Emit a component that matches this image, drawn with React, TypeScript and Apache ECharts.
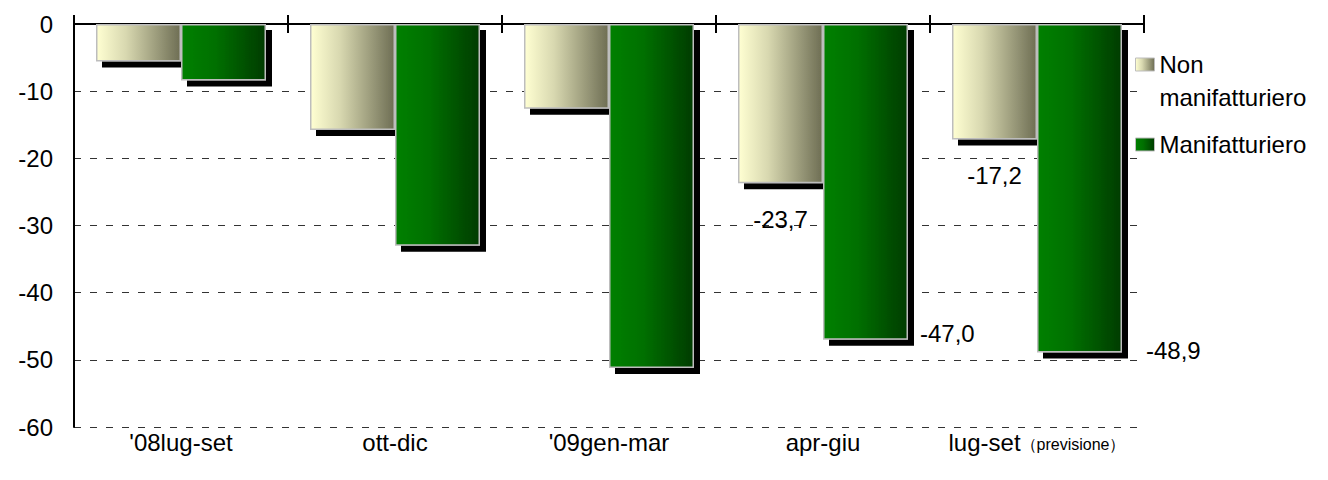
import React, { useEffect, useRef } from "react";
import * as echarts from "echarts";

const categories = ["'08lug-set", "ott-dic", "'09gen-mar", "apr-giu", "lug-set（previsione）"];
const seriesNames = ["Non manifatturiero", "Manifatturiero"];
const nonManifatturiero = [-5.6, -15.8, -12.6, -23.7, -17.2];
const manifatturiero = [-8.4, -33.0, -51.2, -47.0, -48.9];
const labeledIndices = [3, 4];
const yMin = -60;
const yMax = 0;
const yInterval = 10;

const FONT = "'Liberation Sans', Arial, sans-serif";
const FS = 24;

const fmt = (v: number) => v.toFixed(1).replace(".", ",");

export default function App() {
  const ref = useRef<HTMLDivElement>(null);

  useEffect(() => {
    if (!ref.current) return;
    const chart = echarts.init(ref.current, null, { renderer: "svg" });

    const nonGrad = new echarts.graphic.LinearGradient(0, 0, 1, 0, [
      { offset: 0, color: "#FFFFD2" },
      { offset: 0.35, color: "#D8D8B0" },
      { offset: 1, color: "#6E6E54" },
    ]);
    const manGrad = new echarts.graphic.LinearGradient(0, 0, 1, 0, [
      { offset: 0, color: "#008000" },
      { offset: 0.4, color: "#007000" },
      { offset: 1, color: "#003C00" },
    ]);

    const shadow = {
      shadowColor: "#000",
      shadowBlur: 0,
      shadowOffsetX: 6,
      shadowOffsetY: 6,
    };

    const labelBase = {
      show: true,
      color: "#000",
      fontFamily: FONT,
      fontSize: FS,
      formatter: (p: any) => fmt(p.value),
    };

    const nonData = nonManifatturiero.map((v, i) =>
      labeledIndices.includes(i)
        ? { value: v, label: { ...labelBase, position: "bottom", distance: 24 } }
        : v
    );
    const manOffsets: Record<number, number[]> = { 3: [12, -6], 4: [24, -2] };
    const manData = manifatturiero.map((v, i) =>
      labeledIndices.includes(i)
        ? {
            value: v,
            label: {
              ...labelBase,
              position: ["100%", "100%"],
              align: "left",
              verticalAlign: "middle",
              offset: manOffsets[i],
            },
          }
        : v
    );

    const legendText = {
      fontFamily: FONT,
      fontSize: FS,
      color: "#000",
      lineHeight: 33,
    };
    const legendItemStyle = {
      borderColor: "#BDBDBD",
      borderWidth: 1,
      shadowBlur: 0,
      shadowOffsetX: 0,
      shadowOffsetY: 0,
      shadowColor: "rgba(0,0,0,0)",
    };

    const catAxisBase = {
      type: "category",
      data: categories,
      splitLine: { show: false },
    };

    chart.setOption({
      animation: false,
      backgroundColor: "#fff",
      grid: [
        { left: 74, right: 184, top: 24, bottom: 53, containLabel: false, outerBoundsMode: "none" },
        { left: 74, right: 184, top: 24, height: 1, containLabel: false, outerBoundsMode: "none" },
      ],
      legend: [
        {
          data: [seriesNames[0]],
          left: 1135,
          top: 15,
          padding: 0,
          icon: "rect",
          itemWidth: 19,
          itemHeight: 13,
          itemGap: 6,
          formatter: () => "\nNon\nmanifatturiero",
          textStyle: legendText,
          itemStyle: legendItemStyle,
          selectedMode: false,
        },
        {
          data: [seriesNames[1]],
          left: 1135,
          top: 128,
          padding: 0,
          icon: "rect",
          itemWidth: 19,
          itemHeight: 13,
          itemGap: 6,
          textStyle: legendText,
          itemStyle: legendItemStyle,
          selectedMode: false,
        },
      ],
      xAxis: [
        {
          ...catAxisBase,
          gridIndex: 0,
          position: "top",
          axisLine: { show: true, onZero: false, lineStyle: { color: "#000", width: 2 } },
          axisTick: { show: true, length: 9, interval: 0, lineStyle: { color: "#000", width: 2 } },
          axisLabel: { show: false },
        },
        {
          ...catAxisBase,
          gridIndex: 0,
          position: "bottom",
          axisLine: { show: false, onZero: false },
          axisTick: { show: false },
          axisLabel: {
            show: true,
            interval: 0,
            margin: 3,
            color: "#000",
            fontFamily: FONT,
            fontSize: FS,
            formatter: (v: string) => {
              const k = v.indexOf("（");
              if (k < 0) return v;
              return "{a|" + v.slice(0, k) + "}{b|" + v.slice(k) + "}";
            },
            rich: {
              a: { fontFamily: FONT, fontSize: FS, color: "#000" },
              b: { fontFamily: FONT, fontSize: 16, color: "#000", padding: [4, 0, 0, 0] },
            },
          },
        },
        {
          ...catAxisBase,
          gridIndex: 1,
          position: "top",
          axisLine: { show: false, onZero: false },
          axisTick: { show: true, inside: true, length: 9, interval: 0, lineStyle: { color: "#000", width: 2 } },
          axisLabel: { show: false },
        },
      ],
      yAxis: [
        {
          type: "value",
          gridIndex: 0,
          min: yMin,
          max: yMax,
          interval: yInterval,
          axisLine: { show: true, onZero: false, lineStyle: { color: "#000", width: 2 } },
          axisTick: { show: false },
          axisLabel: {
            margin: 21,
            color: "#000",
            fontFamily: FONT,
            fontSize: FS,
          },
          splitLine: {
            show: true,
            lineStyle: { color: "#333", width: 1, type: [7, 9] },
          },
        },
        {
          type: "value",
          gridIndex: 1,
          show: false,
          min: 0,
          max: 1,
        },
      ],
      series: [
        {
          name: seriesNames[0],
          type: "bar",
          xAxisIndex: 0,
          yAxisIndex: 0,
          data: nonData,
          barWidth: 85,
          barGap: "0%",
          itemStyle: { color: nonGrad, borderColor: "#BDBDBD", borderWidth: 1.5, ...shadow },
          label: { show: false },
          emphasis: { disabled: true },
        },
        {
          name: seriesNames[1],
          type: "bar",
          xAxisIndex: 0,
          yAxisIndex: 0,
          data: manData,
          barWidth: 85,
          barGap: "0%",
          itemStyle: { color: manGrad, borderColor: "#BDBDBD", borderWidth: 1.5, ...shadow },
          label: { show: false },
          emphasis: { disabled: true },
        },
      ],
    });

    return () => chart.dispose();
  }, []);

  return <div ref={ref} style={{ width: 1328, height: 480, position: "absolute", left: 0, top: 0 }} />;
}
